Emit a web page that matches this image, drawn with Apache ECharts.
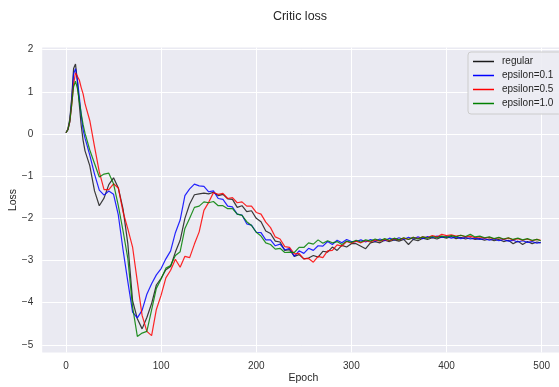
<!DOCTYPE html>
<html>
<head>
<meta charset="utf-8">
<script src="https://cdn.jsdelivr.net/npm/echarts@6/dist/echarts.min.js"></script>
<style>html,body{margin:0;padding:0;background:#fff}#c{width:559px;height:387px}</style>
</head>
<body>
<div id="c"></div>
<script>
const epochs = [0,2,4,6,8,10,12,14,16,18,20,
25,30,35,40,45,50,55,60,65,70,75,80,85,90,95,100,105,110,115,120,125,130,135,140,145,150,155,160,165,170,175,180,185,190,195,200,
205,210,215,220,225,230,235,240,245,250,255,260,265,270,275,280,285,290,295,300,
305,310,315,320,325,330,335,340,345,350,355,360,365,370,375,380,385,390,395,400,
405,410,415,420,425,430,435,440,445,450,455,460,465,470,475,480,485,490,495,499];

const regular = [0.03,0.12,0.35,0.85,1.55,1.66,1.25,0.70,0.20,-0.15,-0.40,
-0.75,-1.35,-1.70,-1.52,-1.20,-1.04,-1.28,-1.78,-2.60,-3.95,-4.38,-4.62,-4.35,-4.02,-3.58,-3.42,-3.22,-3.14,-2.80,-2.52,-2.00,-1.66,-1.44,-1.42,-1.40,-1.42,-1.38,-1.46,-1.43,-1.54,-1.55,-1.74,-1.70,-1.84,-1.82,-2.00,
-2.08,-2.30,-2.36,-2.54,-2.56,-2.76,-2.74,-2.90,-2.86,-2.96,-2.94,-2.88,-2.92,-2.78,-2.80,-2.68,-2.76,-2.64,-2.68,-2.60,
-2.60,-2.66,-2.72,-2.58,-2.55,-2.58,-2.52,-2.55,-2.51,-2.54,-2.50,-2.62,-2.50,-2.53,-2.47,-2.50,-2.46,-2.49,-2.44,-2.47,
-2.43,-2.48,-2.45,-2.49,-2.46,-2.50,-2.48,-2.52,-2.49,-2.53,-2.50,-2.55,-2.52,-2.60,-2.54,-2.62,-2.55,-2.60,-2.56,-2.58];

const eps01 = [0.03,0.10,0.30,0.78,1.42,1.55,1.28,0.88,0.45,0.10,-0.10,
-0.50,-0.95,-1.33,-1.45,-1.35,-1.43,-1.92,-2.75,-3.50,-4.22,-4.36,-4.18,-3.80,-3.55,-3.34,-3.19,-2.96,-2.77,-2.34,-2.04,-1.46,-1.30,-1.19,-1.23,-1.24,-1.37,-1.35,-1.53,-1.55,-1.71,-1.73,-1.90,-1.92,-2.13,-2.16,-2.33,
-2.34,-2.51,-2.51,-2.65,-2.61,-2.75,-2.71,-2.90,-2.77,-2.83,-2.71,-2.76,-2.65,-2.66,-2.55,-2.62,-2.52,-2.58,-2.50,-2.55,
-2.55,-2.51,-2.56,-2.50,-2.54,-2.49,-2.53,-2.47,-2.51,-2.46,-2.50,-2.45,-2.49,-2.44,-2.48,-2.43,-2.46,-2.42,-2.45,-2.43,
-2.47,-2.44,-2.48,-2.45,-2.49,-2.47,-2.50,-2.48,-2.52,-2.49,-2.53,-2.50,-2.54,-2.52,-2.56,-2.53,-2.57,-2.55,-2.59,-2.57];

const eps05 = [0.03,0.10,0.28,0.68,1.18,1.45,1.46,1.28,1.10,0.95,0.72,
0.32,-0.30,-0.90,-1.32,-1.32,-1.18,-1.28,-1.85,-2.25,-2.68,-3.50,-4.30,-4.68,-4.78,-4.16,-3.82,-3.41,-3.23,-2.97,-3.16,-2.90,-2.93,-2.61,-2.32,-1.81,-1.62,-1.39,-1.43,-1.41,-1.53,-1.51,-1.63,-1.61,-1.71,-1.71,-1.86,
-1.90,-2.09,-2.22,-2.44,-2.49,-2.67,-2.69,-2.84,-2.83,-2.96,-2.95,-3.04,-2.90,-2.93,-2.77,-2.76,-2.63,-2.66,-2.55,-2.59,
-2.54,-2.58,-2.53,-2.56,-2.51,-2.54,-2.50,-2.53,-2.48,-2.51,-2.47,-2.50,-2.45,-2.48,-2.44,-2.46,-2.41,-2.44,-2.38,-2.41,
-2.39,-2.42,-2.40,-2.44,-2.42,-2.46,-2.44,-2.47,-2.45,-2.49,-2.46,-2.50,-2.47,-2.51,-2.48,-2.52,-2.49,-2.53,-2.50,-2.52];

const eps10 = [0.03,0.10,0.30,0.70,1.12,1.25,1.08,0.78,0.48,0.22,0.02,
-0.38,-0.70,-1.02,-0.95,-0.93,-1.18,-1.70,-2.30,-2.95,-4.10,-4.80,-4.72,-4.68,-4.17,-3.66,-3.44,-3.18,-3.12,-2.88,-2.79,-2.24,-2.00,-1.74,-1.71,-1.61,-1.63,-1.60,-1.70,-1.70,-1.77,-1.77,-1.90,-1.93,-2.08,-2.17,-2.33,
-2.42,-2.58,-2.62,-2.73,-2.71,-2.81,-2.80,-2.81,-2.69,-2.69,-2.58,-2.61,-2.51,-2.59,-2.53,-2.58,-2.55,-2.62,-2.54,-2.57,
-2.52,-2.56,-2.51,-2.54,-2.49,-2.53,-2.48,-2.52,-2.47,-2.51,-2.46,-2.50,-2.45,-2.49,-2.44,-2.47,-2.43,-2.46,-2.42,-2.45,
-2.41,-2.44,-2.40,-2.43,-2.38,-2.44,-2.42,-2.46,-2.44,-2.48,-2.45,-2.49,-2.46,-2.50,-2.47,-2.51,-2.48,-2.52,-2.50,-2.53];

const seriesNames = ['regular','epsilon=0.1','epsilon=0.5','epsilon=1.0'];
const xTicks = [0,100,200,300,400,500];
const yTicks = [-5,-4,-3,-2,-1,0,1,2];

const colors = ['#1a1a1a','#0000ff','#ff0000','#008000'];
const values = [regular, eps01, eps05, eps10];

const chart = echarts.init(document.getElementById('c'), null, {renderer:'canvas'});
const font = 'Liberation Sans, Arial, sans-serif';
chart.setOption({
  animation:false,
  backgroundColor:'#ffffff',
  title:{text:'Critic loss', left:295, top:5, textAlign:'center',
    textStyle:{fontFamily:font, fontSize:12.5, fontWeight:'normal', color:'#262626'}},
  grid:{left:42.2, top:47.5, width:522.3, height:305, show:true, backgroundColor:'#EAEAF2', borderWidth:0,
    outerBoundsMode:'none', containLabel:false},
  xAxis:{type:'value', min:-25, max:524,
    name:'Epoch', nameLocation:'middle', nameGap:20, nameMoveOverlap:false,
    nameTextStyle:{fontFamily:font, fontSize:10.5, color:'#262626'},
    axisLine:{show:false},
    axisTick:{show:false, customValues:xTicks},
    axisLabel:{customValues:xTicks, margin:9, fontFamily:font, fontSize:10, color:'#333'},
    splitLine:{show:true, lineStyle:{color:'#ffffff', width:1}}},
  yAxis:{type:'value', min:-5.18, max:2.05,
    name:'Loss', nameLocation:'middle', nameGap:24, nameMoveOverlap:false,
    nameTextStyle:{fontFamily:font, fontSize:10.5, color:'#262626'},
    axisLine:{show:false},
    axisTick:{show:false, customValues:yTicks},
    axisLabel:{customValues:yTicks, margin:9, fontFamily:font, fontSize:10, color:'#333',
      formatter:v=>String(v).replace('-','\u2212')},
    splitLine:{show:true, lineStyle:{color:'#ffffff', width:1}}},
  legend:{orient:'vertical', left:468, top:52, padding:[4,8,5,5],
    backgroundColor:'rgba(236,236,243,0.9)', borderColor:'#cccccc', borderWidth:1, borderRadius:3,
    icon:'rect', itemWidth:21, itemHeight:1.5, itemGap:3,
    textStyle:{fontFamily:font, fontSize:10, lineHeight:11, color:'#262626', padding:[0,0,0,3]},
    data:seriesNames},
  series: seriesNames.map((n,i)=>({
    name:n, type:'line', showSymbol:false, symbol:'none',
    data: epochs.map((e,j)=>[e, values[i][j]]),
    lineStyle:{color:colors[i], width:1.2, opacity:0.85},
    itemStyle:{color:colors[i]},
    z: 2+i
  }))
});
</script>
</body>
</html>
